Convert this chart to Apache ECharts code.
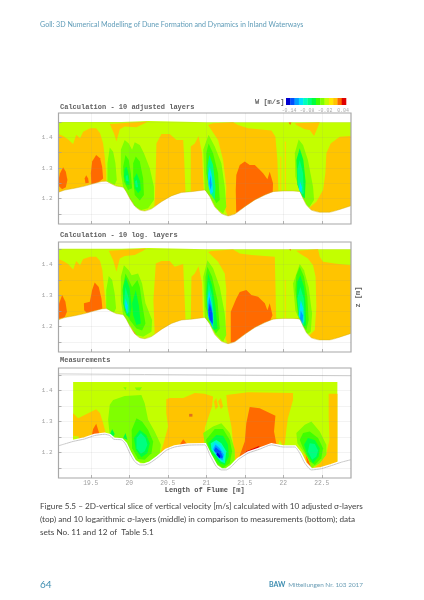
<!DOCTYPE html>
<html><head><meta charset="utf-8"><style>html,body{margin:0;padding:0;background:#fff}#c{width:424px;height:600px;filter:blur(0.35px)}</style>
<script src="https://cdn.jsdelivr.net/npm/echarts@6/dist/echarts.min.js"></script></head><body><div id="c"></div>
<script>
const YG='#c3ff00',OR='#ffc400',RD='#ff6a00',LG='#80ff00',G1='#40ff00',G2='#00ff40',G3='#00ff80',G4='#00ffc0',CY='#00e0ff',LB='#00a0ff',BL='#0050ff',DB='#0000d0',DR='#e00000',ST='#ffd500';
const colorbarLevels=[-0.15,-0.1357,-0.1214,-0.1071,-0.0929,-0.0786,-0.0643,-0.05,-0.0357,-0.0214,-0.0071,0.0071,0.0214,0.0357,0.05];
const colorbarColors=[DB,BL,LB,CY,G4,G3,G2,G1,LG,YG,'#ffe800',OR,RD,DR];
const colorbarTicks=[-0.14,-0.08,-0.02,0.04];
const flumeTicks=[19.5,20,20.5,21,21.5,22,22.5];
const zLabels=[1.2,1.3,1.4];
const zTicks=[1.15,1.2,1.25,1.3,1.35,1.4,1.45];

const bedModel=[[19.08,1.221],[19.162,1.228],[19.29,1.234],[19.42,1.241],[19.55,1.25],[19.64,1.256],[19.70,1.257],[19.77,1.248],[19.83,1.241],[19.92,1.237],[19.96,1.223],[20.006,1.201],[20.07,1.176],[20.136,1.163],[20.20,1.16],[20.288,1.167],[20.417,1.19],[20.547,1.209],[20.677,1.22],[20.807,1.223],[20.98,1.228],[21.045,1.207],[21.11,1.174],[21.196,1.152],[21.283,1.144],[21.37,1.15],[21.50,1.174],[21.63,1.196],[21.76,1.212],[21.87,1.223],[21.997,1.225],[22.127,1.225],[22.214,1.223],[22.257,1.201],[22.30,1.18],[22.365,1.163],[22.474,1.156],[22.60,1.156],[22.733,1.165],[22.88,1.177]];
const surfaceModel=[[19.08,1.45],[19.9,1.45],[20.25,1.453],[21.0,1.449],[22.88,1.449],[22.88,1.13],[19.08,1.13]];
const bedMeasured=[[19.08,1.222],[19.162,1.228],[19.27,1.236],[19.42,1.244],[19.55,1.255],[19.68,1.259],[19.746,1.255],[19.80,1.243],[19.90,1.241],[19.95,1.228],[20.006,1.198],[20.07,1.171],[20.136,1.16],[20.20,1.16],[20.266,1.166],[20.374,1.185],[20.48,1.207],[20.59,1.218],[20.763,1.224],[20.98,1.225],[21.045,1.193],[21.13,1.155],[21.196,1.144],[21.26,1.144],[21.326,1.155],[21.413,1.177],[21.543,1.198],[21.694,1.211],[21.846,1.225],[21.997,1.218],[22.15,1.218],[22.214,1.198],[22.28,1.166],[22.365,1.144],[22.495,1.148],[22.625,1.158],[22.755,1.169],[22.88,1.177]];
const surfaceMeasured=[[19.08,1.454],[20.2,1.452],[21.4,1.45],[22.88,1.448]];
const fieldMeasured=[[19.27,1.428],[22.703,1.428],[22.703,1.13],[19.27,1.13]];

// Panel 1: 10 adjusted layers
const a1=[[19.08,1.411],[19.14,1.404],[19.205,1.393],[19.27,1.378],[19.31,1.408],[19.36,1.397],[19.40,1.418],[19.49,1.429],[19.57,1.429],[19.62,1.413],[19.66,1.38],[19.68,1.337],[19.70,1.283],[19.70,1.2],[19.08,1.2]];
const a2=[[19.746,1.443],[20.244,1.451],[20.20,1.446],[20.093,1.433],[19.94,1.435],[19.876,1.426],[19.833,1.386],[19.80,1.413]];
const a3=[[20.352,1.38],[20.417,1.411],[20.525,1.411],[20.612,1.391],[20.70,1.391],[20.71,1.348],[20.73,1.22],[20.73,1.2],[20.31,1.15],[20.33,1.19],[20.344,1.294]];
const a4=[[20.798,1.37],[20.85,1.38],[20.90,1.404],[20.945,1.348],[20.958,1.272],[20.97,1.218],[20.798,1.2]];
const a5=[[21.088,1.446],[21.348,1.449],[21.413,1.44],[21.543,1.429],[21.846,1.422],[21.898,1.402],[21.924,1.326],[21.94,1.2],[21.3,1.13],[21.248,1.163],[21.26,1.239],[21.218,1.326],[21.153,1.391],[21.023,1.44]];
const a6=[[22.56,1.348],[22.616,1.38],[22.733,1.402],[22.88,1.404],[22.88,1.15],[22.474,1.14],[22.357,1.15],[22.33,1.169],[22.43,1.19],[22.517,1.228],[22.547,1.283]];
const a7=[[22.15,1.446],[22.474,1.449],[22.443,1.429],[22.40,1.404],[22.344,1.424],[22.28,1.426],[22.17,1.44]];
const a8=[[21.96,1.337],[21.975,1.337],[21.975,1.22],[21.96,1.22]];
const a9=[[22.02,1.386],[22.035,1.386],[22.035,1.22],[22.02,1.22]];
const a10=[[19.976,1.228],[20.036,1.212],[20.136,1.163],[20.006,1.185]];
const a11=[[19.14,1.302],[19.175,1.288],[19.196,1.261],[19.175,1.237],[19.127,1.231],[19.084,1.241],[19.08,1.261],[19.10,1.283]];
const a12=[[19.44,1.276],[19.465,1.266],[19.474,1.252],[19.43,1.25],[19.42,1.266]];
const a13=[[19.57,1.342],[19.62,1.332],[19.647,1.304],[19.66,1.266],[19.62,1.258],[19.508,1.24],[19.50,1.283],[19.517,1.321]];
const a14=[[21.39,1.277],[21.435,1.31],[21.50,1.321],[21.564,1.31],[21.63,1.31],[21.694,1.294],[21.738,1.283],[21.794,1.263],[21.824,1.288],[21.867,1.25],[21.86,1.2],[21.5,1.14],[21.39,1.14],[21.383,1.228]];
const a15=[[20.006,1.212],[20.05,1.201],[20.093,1.174],[20.05,1.174],[20.006,1.196]];
const a16=[[22.07,1.448],[22.105,1.448],[22.09,1.44]];
const a17=[[19.746,1.367],[19.79,1.353],[19.82,1.315],[19.837,1.261],[19.81,1.245],[19.76,1.252],[19.716,1.258],[19.716,1.315]];
const a18=[[19.94,1.391],[19.993,1.38],[20.036,1.359],[20.07,1.384],[20.136,1.375],[20.19,1.348],[20.266,1.299],[20.32,1.239],[20.32,1.196],[20.244,1.169],[20.157,1.163],[20.07,1.174],[19.984,1.212],[19.92,1.237],[19.89,1.283],[19.89,1.359]];
const a19=[[19.95,1.342],[19.993,1.326],[20.02,1.283],[20.036,1.234],[19.984,1.228],[19.93,1.256],[19.92,1.304]];
const a20=[[20.084,1.337],[20.136,1.321],[20.18,1.266],[20.19,1.212],[20.136,1.194],[20.07,1.212],[20.05,1.266],[20.05,1.315]];
const a21=[[19.967,1.304],[19.993,1.277],[20.006,1.245],[19.963,1.245],[19.93,1.272],[19.94,1.299]];
const a22=[[20.097,1.283],[20.14,1.256],[20.15,1.228],[20.114,1.218],[20.07,1.234],[20.06,1.266]];
const a23=[[19.976,1.277],[19.993,1.256],[19.954,1.259],[19.954,1.274]];
const a24=[[20.097,1.261],[20.114,1.237],[20.084,1.237],[20.075,1.256]];
const a25=[[21.03,1.408],[21.11,1.37],[21.196,1.315],[21.24,1.239],[21.26,1.174],[21.218,1.152],[21.13,1.169],[21.045,1.205],[20.98,1.228],[20.96,1.359]];
const a26=[[21.03,1.38],[21.088,1.348],[21.153,1.283],[21.175,1.196],[21.13,1.185],[21.045,1.228],[21.0,1.283],[21.0,1.348]];
const a27=[[21.04,1.342],[21.088,1.31],[21.12,1.239],[21.11,1.196],[21.067,1.212],[21.023,1.25],[21.015,1.304]];
const a28=[[21.045,1.304],[21.075,1.272],[21.088,1.223],[21.058,1.212],[21.03,1.239],[21.023,1.277]];
const a29=[[21.054,1.277],[21.07,1.245],[21.054,1.228],[21.04,1.25]];
const a30=[[22.20,1.393],[22.257,1.375],[22.32,1.326],[22.387,1.239],[22.40,1.196],[22.33,1.169],[22.257,1.201],[22.214,1.223],[22.157,1.272],[22.15,1.348]];
const a31=[[22.214,1.364],[22.261,1.326],[22.29,1.256],[22.28,1.201],[22.244,1.207],[22.183,1.245],[22.17,1.326]];
const a32=[[22.214,1.326],[22.257,1.283],[22.266,1.218],[22.235,1.212],[22.19,1.245],[22.183,1.294]];
const a33=[[22.218,1.256],[22.244,1.237],[22.235,1.218],[22.205,1.231]];

// Panel 2: 10 logarithmic layers
const b1=[[19.08,1.417],[19.14,1.411],[19.205,1.401],[19.27,1.383],[19.31,1.411],[19.36,1.397],[19.40,1.417],[19.49,1.424],[19.57,1.424],[19.62,1.411],[19.65,1.381],[19.67,1.327],[19.70,1.258],[19.70,1.2],[19.08,1.2]];
const b2=[[19.733,1.444],[20.22,1.451],[20.18,1.444],[20.07,1.43],[19.94,1.427],[19.876,1.419],[19.833,1.376],[19.79,1.413]];
const b3=[[20.344,1.403],[20.417,1.411],[20.525,1.411],[20.59,1.392],[20.70,1.401],[20.71,1.338],[20.73,1.222],[20.73,1.2],[20.31,1.15],[20.33,1.177],[20.313,1.284]];
const b4=[[20.807,1.36],[20.85,1.37],[20.90,1.394],[20.945,1.338],[20.958,1.225],[20.958,1.2],[20.798,1.2]];
const b5=[[21.067,1.443],[21.348,1.448],[21.435,1.435],[21.586,1.43],[21.89,1.424],[21.90,1.317],[21.91,1.2],[21.3,1.13],[21.248,1.161],[21.26,1.317],[21.24,1.37],[21.153,1.408],[21.023,1.44]];
const b6=[[22.17,1.444],[22.452,1.449],[22.474,1.424],[22.517,1.408],[22.668,1.403],[22.88,1.397],[22.88,1.15],[22.474,1.14],[22.357,1.15],[22.33,1.168],[22.41,1.188],[22.43,1.263],[22.42,1.36],[22.387,1.397],[22.32,1.419],[22.214,1.435]];
const b7=[[22.02,1.35],[22.032,1.35],[22.032,1.22],[22.02,1.22]];
const b8=[[20.02,1.196],[20.07,1.179],[20.105,1.168],[20.06,1.172]];
const b9=[[19.127,1.301],[19.17,1.279],[19.19,1.247],[19.16,1.229],[19.084,1.224],[19.08,1.268]];
const b10=[[19.55,1.341],[19.603,1.327],[19.638,1.29],[19.65,1.258],[19.55,1.24],[19.465,1.24],[19.413,1.252],[19.41,1.274],[19.487,1.279],[19.517,1.317]];
const b11=[[21.318,1.247],[21.39,1.29],[21.435,1.311],[21.52,1.317],[21.586,1.301],[21.673,1.295],[21.76,1.274],[21.794,1.252],[21.824,1.274],[21.86,1.236],[21.80,1.2],[21.5,1.14],[21.318,1.14]];
const b12=[[22.08,1.449],[22.1,1.449],[22.09,1.443]];
const b13=[[19.733,1.362],[19.777,1.349],[19.81,1.306],[19.828,1.258],[19.80,1.244],[19.746,1.25],[19.70,1.255],[19.70,1.317]];
const b14=[[19.93,1.397],[19.993,1.381],[20.03,1.365],[20.114,1.37],[20.166,1.338],[20.21,1.274],[20.296,1.22],[20.288,1.182],[20.18,1.166],[20.093,1.172],[19.993,1.209],[19.92,1.236],[19.89,1.284],[19.89,1.36]];
const b15=[[19.95,1.37],[19.993,1.349],[20.036,1.327],[20.105,1.349],[20.136,1.327],[20.166,1.274],[20.21,1.209],[20.166,1.186],[20.093,1.193],[20.006,1.22],[19.93,1.252],[19.91,1.317]];
const b16=[[19.954,1.358],[20.006,1.322],[20.03,1.263],[20.006,1.229],[19.963,1.236],[19.92,1.274],[19.92,1.327]];
const b17=[[20.084,1.317],[20.123,1.268],[20.15,1.209],[20.093,1.204],[20.05,1.236],[20.036,1.274]];
const b18=[[19.95,1.327],[19.993,1.29],[20.0,1.247],[19.967,1.239],[19.93,1.274]];
const b19=[[19.95,1.29],[19.98,1.268],[19.976,1.241],[19.945,1.263]];
const b20=[[21.015,1.413],[21.088,1.387],[21.175,1.327],[21.24,1.241],[21.26,1.172],[21.218,1.15],[21.13,1.172],[21.045,1.204],[20.98,1.225],[20.96,1.36]];
const b21=[[21.015,1.392],[21.075,1.36],[21.145,1.284],[21.175,1.193],[21.123,1.177],[21.045,1.215],[20.99,1.263],[20.99,1.36]];
const b22=[[21.023,1.37],[21.075,1.333],[21.12,1.263],[21.145,1.193],[21.10,1.188],[21.023,1.231],[21.0,1.306]];
const b23=[[21.03,1.344],[21.075,1.3],[21.10,1.236],[21.09,1.188],[21.03,1.225],[21.01,1.29]];
const b24=[[21.036,1.317],[21.075,1.268],[21.09,1.225],[21.084,1.196],[21.023,1.233],[21.015,1.284]];
const b25=[[21.04,1.295],[21.075,1.258],[21.088,1.22],[21.08,1.2],[21.023,1.236],[21.023,1.268]];
const b26=[[21.045,1.274],[21.08,1.241],[21.084,1.207],[21.04,1.222],[21.028,1.252]];
const b27=[[22.214,1.401],[22.27,1.381],[22.33,1.327],[22.374,1.241],[22.357,1.182],[22.30,1.172],[22.235,1.204],[22.157,1.252],[22.127,1.338]];
const b28=[[22.214,1.392],[22.27,1.36],[22.313,1.295],[22.33,1.22],[22.30,1.188],[22.257,1.198],[22.19,1.241],[22.157,1.317],[22.17,1.365]];
const b29=[[22.222,1.365],[22.27,1.327],[22.29,1.274],[22.296,1.204],[22.26,1.198],[22.20,1.236],[22.175,1.295],[22.183,1.344]];
const b30=[[22.222,1.327],[22.266,1.29],[22.28,1.22],[22.26,1.2],[22.205,1.236],[22.183,1.29]];
const b31=[[22.227,1.284],[22.26,1.258],[22.266,1.215],[22.24,1.204],[22.20,1.236]];
const b32=[[22.227,1.25],[22.257,1.236],[22.25,1.209],[22.218,1.225]];

// Panel 3: measurements
const c1=[[19.27,1.327],[19.335,1.311],[19.465,1.327],[19.57,1.34],[19.62,1.327],[19.66,1.295],[19.70,1.257],[19.70,1.23],[19.27,1.23]];
const c2=[[19.27,1.254],[19.344,1.252],[19.344,1.235],[19.27,1.235]];
const c3=[[20.48,1.372],[20.525,1.376],[20.70,1.376],[20.85,1.392],[20.976,1.39],[21.088,1.381],[21.075,1.349],[21.03,1.316],[20.98,1.279],[20.98,1.2],[20.35,1.15],[20.396,1.193],[20.44,1.225],[20.504,1.284],[20.48,1.327]];
const c4=[[21.26,1.386],[21.543,1.395],[22.127,1.392],[22.127,1.37],[22.06,1.311],[22.04,1.273],[22.02,1.228],[21.91,1.2],[21.5,1.13],[21.378,1.13],[21.378,1.16],[21.326,1.284],[21.274,1.349]];
const c5=[[22.59,1.39],[22.703,1.39],[22.703,1.14],[22.365,1.13],[22.365,1.144],[22.474,1.166],[22.56,1.198],[22.60,1.241],[22.59,1.316]];
const c6=[[21.10,1.365],[21.13,1.376],[21.153,1.349],[21.12,1.338]];
const c7=[[21.153,1.365],[21.19,1.376],[21.218,1.349],[21.19,1.34]];
const c8=[[21.954,1.241],[21.997,1.222],[21.932,1.222]];
const c9=[[19.976,1.222],[20.05,1.204],[20.114,1.166],[20.05,1.177]];
const c10=[[22.257,1.204],[22.365,1.166],[22.40,1.147],[22.30,1.16]];
const c11=[[19.57,1.293],[19.608,1.263],[19.62,1.25],[19.508,1.25],[19.53,1.276]];
const c12=[[20.70,1.243],[20.755,1.225],[20.755,1.21],[20.655,1.21],[20.655,1.225]];
const c13=[[20.46,1.209],[20.525,1.218],[20.547,1.214],[20.44,1.19]];
const c14=[[21.564,1.347],[21.694,1.343],[21.898,1.319],[21.88,1.268],[21.91,1.228],[21.80,1.2],[21.5,1.14],[21.39,1.16],[21.50,1.236],[21.52,1.295]];
const c15=[[21.52,1.204],[21.694,1.222],[21.673,1.213],[21.456,1.185]];
const c16=[[20.777,1.325],[20.82,1.325],[20.82,1.316],[20.777,1.316]];
const c17=[[19.993,1.217],[20.036,1.204],[20.07,1.185],[20.036,1.19]];
const c18=[[22.287,1.198],[22.344,1.166],[22.365,1.15],[22.313,1.166]];
const c19=[[19.79,1.37],[19.94,1.383],[20.157,1.386],[20.20,1.359],[20.244,1.306],[20.33,1.268],[20.41,1.225],[20.396,1.198],[20.288,1.171],[20.18,1.166],[20.07,1.177],[19.993,1.204],[19.92,1.239],[19.855,1.247],[19.746,1.255],[19.725,1.306],[19.746,1.354]];
const c20=[[19.92,1.411],[19.963,1.411],[19.954,1.402]];
const c21=[[20.07,1.41],[20.166,1.411],[20.136,1.4],[20.093,1.402]];
const c22=[[20.093,1.311],[20.166,1.3],[20.244,1.273],[20.31,1.236],[20.288,1.198],[20.20,1.177],[20.114,1.179],[20.036,1.214],[20.03,1.273]];
const c23=[[19.777,1.276],[19.81,1.26],[19.79,1.252],[19.746,1.257]];
const c24=[[19.95,1.263],[19.976,1.241],[19.92,1.247]];
const c25=[[20.136,1.273],[20.22,1.257],[20.266,1.23],[20.235,1.198],[20.157,1.185],[20.084,1.209],[20.06,1.247]];
const c26=[[20.15,1.263],[20.21,1.247],[20.235,1.225],[20.20,1.204],[20.15,1.196],[20.093,1.214],[20.093,1.247]];
const c27=[[21.088,1.284],[21.196,1.295],[21.305,1.263],[21.37,1.209],[21.37,1.177],[21.283,1.147],[21.196,1.147],[21.11,1.166],[21.045,1.193],[20.98,1.225],[20.96,1.263]];
const c28=[[21.11,1.276],[21.218,1.276],[21.305,1.241],[21.335,1.204],[21.305,1.166],[21.218,1.15],[21.13,1.166],[21.045,1.204],[20.993,1.241]];
const c29=[[21.13,1.257],[21.218,1.254],[21.283,1.225],[21.292,1.187],[21.24,1.16],[21.175,1.166],[21.067,1.198],[21.023,1.23]];
const c30=[[21.13,1.241],[21.196,1.23],[21.26,1.204],[21.24,1.166],[21.188,1.171],[21.067,1.209],[21.058,1.23]];
const c31=[[21.11,1.233],[21.188,1.222],[21.24,1.198],[21.218,1.171],[21.16,1.182],[21.075,1.214]];
const c32=[[21.12,1.225],[21.175,1.214],[21.227,1.193],[21.21,1.175],[21.153,1.185],[21.09,1.211]];
const c33=[[21.123,1.217],[21.183,1.204],[21.218,1.185],[21.188,1.182],[21.10,1.207]];
const c34=[[21.145,1.2],[21.183,1.19],[21.175,1.182],[21.13,1.193]];
const c35=[[22.28,1.29],[22.365,1.3],[22.474,1.268],[22.56,1.225],[22.56,1.193],[22.474,1.166],[22.365,1.15],[22.32,1.182],[22.257,1.204],[22.183,1.23],[22.17,1.263]];
const c36=[[22.257,1.263],[22.344,1.268],[22.452,1.247],[22.517,1.214],[22.495,1.182],[22.41,1.16],[22.344,1.171],[22.257,1.214],[22.214,1.241]];
const c37=[[22.32,1.247],[22.41,1.241],[22.474,1.214],[22.46,1.187],[22.387,1.166],[22.313,1.193],[22.27,1.225]];
const c38=[[22.344,1.23],[22.41,1.228],[22.452,1.207],[22.43,1.187],[22.374,1.177],[22.32,1.204]];

const panel1Regions=[[YG,surfaceModel],[OR,a1],[OR,a2],[OR,a3],[OR,a4],[OR,a5],[OR,a6],[OR,a7],[ST,a8],[ST,a9],[OR,a10],[RD,a11],[RD,a12],[RD,a13],[RD,a14],[RD,a15],[RD,a16],[LG,a17],[LG,a18],[G1,a19],[G1,a20],[G2,a21],[G2,a22],[G3,a23],[G3,a24],[LG,a25],[G1,a26],[G3,a27],[CY,a28],[LB,a29],[LG,a30],[G2,a31],[G3,a32],[CY,a33]];
const panel2Regions=[[YG,surfaceModel],[OR,b1],[OR,b2],[OR,b3],[OR,b4],[OR,b5],[OR,b6],[ST,b7],[RD,b8],[RD,b9],[RD,b10],[RD,b11],[RD,b12],[LG,b13],[LG,b14],[G1,b15],[G2,b16],[G2,b17],[G3,b18],[CY,b19],[LG,b20],[G1,b21],[G2,b22],[G3,b23],[CY,b24],[LB,b25],[BL,b26],[LG,b27],[G1,b28],[G2,b29],[G3,b30],[CY,b31],[LB,b32]];
const panel3Regions=[[YG,fieldMeasured],[OR,c1],[YG,c2],[OR,c3],[OR,c4],[OR,c5],[OR,c6],[OR,c7],[YG,c8],[OR,c9],[OR,c10],[RD,c11],[RD,c12],[RD,c13],[RD,c14],[DR,c15],['#e07020',c16],[RD,c17],[RD,c18],[LG,c19],[LG,c20],[LG,c21],[G1,c22],[G2,c23],[G2,c24],[G2,c25],[G3,c26],[LG,c27],[G1,c28],[G2,c29],[G4,c30],[CY,c31],[LB,c32],[BL,c33],[DB,c34],[LG,c35],[G1,c36],[G2,c37],[G3,c38]];

const mono='"Liberation Mono",monospace', sans='"Lato","Open Sans",sans-serif';
const X0=19.08,X1=22.88,Z0=[1.1176,1.117,1.118],Z1=[1.479,1.472,1.473];
const boxes=[[113,224],[242,352],[368,478]];
const grids=[],xAxes=[],yAxes=[],series=[];
function polySeries(g,regions,zv){
  series.push({type:'custom',coordinateSystem:'cartesian2d',xAxisIndex:g,yAxisIndex:g,z:zv,clip:true,silent:true,
    data:regions.map((r,i)=>[X0,Z0[g],i]),
    renderItem(p,api){const r=regions[p.dataIndex];
      return {type:'polygon',shape:{points:r[1].map(q=>api.coord(q))},style:{fill:r[0],stroke:r[2]||null,lineWidth:r[3]||0}};}});
}
[panel1Regions,panel2Regions,panel3Regions].forEach((regions,g)=>{
  grids.push({left:58.5,width:292.5,top:boxes[g][0],height:boxes[g][1]-boxes[g][0],show:true,borderColor:'#a8a8a8',borderWidth:1.2,z:5});
  const last=g===2;
  xAxes.push({type:'value',gridIndex:g,min:X0,max:X1,z:5,
    name:last?'Length of Flume [m]':'',nameLocation:'middle',nameGap:9,nameTextStyle:{fontFamily:mono,fontWeight:'bold',fontSize:7,color:'#505050'},
    axisLine:{show:false},
    axisTick:{show:true,inside:true,length:3,customValues:flumeTicks,lineStyle:{color:'#a0a0a0',width:0.8}},
    splitLine:{show:true,customValues:flumeTicks,lineStyle:{color:'rgba(150,150,150,0.14)',width:0.8}},
    axisLabel:{show:last,customValues:flumeTicks,margin:2,fontFamily:mono,fontSize:6.3,color:'#a0a0a0',formatter:v=>String(v)}});
  yAxes.push({type:'value',gridIndex:g,min:Z0[g],max:Z1[g],z:5,
    axisLine:{show:false},
    axisTick:{show:true,inside:true,length:3,customValues:zTicks,lineStyle:{color:'#a0a0a0',width:0.8}},
    splitLine:{show:true,customValues:zTicks,lineStyle:{color:'rgba(150,150,150,0.14)',width:0.8}},
    axisLabel:{customValues:zLabels,margin:6,fontFamily:mono,fontSize:6,color:'#a0a0a0',formatter:v=>v.toFixed(1)}});
  polySeries(g,regions,1);
  const bed=g===2?bedMeasured:bedModel;
  polySeries(g,[['#ffffff',bed.concat([[X1,Z0[g]-0.02],[X0,Z0[g]-0.02]]),'#ffffff',g===2?3.6:0]],2);
  series.push({type:'line',xAxisIndex:g,yAxisIndex:g,data:bed,symbol:'none',z:3,silent:true,smooth:0.2,
    lineStyle:{color:g===2?'#c8c8c8':'rgba(205,175,20,0.55)',width:g===2?1:0.8}});
  if(last) series.push({type:'line',xAxisIndex:g,yAxisIndex:g,data:surfaceMeasured,symbol:'none',z:3,silent:true,lineStyle:{color:'#d0d0d0',width:1}});
});
// colour bar
grids.push({left:286,width:60,top:98,height:7,show:false});
xAxes.push({type:'value',gridIndex:3,min:-0.15,max:0.05,axisLine:{show:false},axisTick:{show:false},splitLine:{show:false},
  axisLabel:{customValues:colorbarTicks,margin:3,fontFamily:mono,fontSize:4.9,color:'#aaaaaa',formatter:v=>v.toFixed(2)}});
yAxes.push({type:'value',gridIndex:3,min:0,max:1,show:false});
series.push({type:'custom',xAxisIndex:3,yAxisIndex:3,silent:true,data:colorbarColors.map((c,i)=>[colorbarLevels[i],colorbarLevels[i+1]]),
  encode:{x:[0,1]},
  renderItem(p,api){const a=api.coord([api.value(0),1]),b=api.coord([api.value(1),0]);
    return {type:'rect',shape:{x:a[0],y:a[1],width:b[0]-a[0]+0.3,height:b[1]-a[1]},style:{fill:colorbarColors[p.dataIndex]}};}});
const T=(x,y,t,o={})=>({type:'text',x,y,silent:true,style:Object.assign({text:t,fontFamily:sans,fontSize:9.6,fill:'#444',verticalAlign:'middle'},o)});
const M={fontFamily:mono,fontWeight:'bold',fontSize:7,fill:'#606060'};
const chart=echarts.init(document.getElementById('c'),null,{renderer:'canvas'});
chart.setOption({animation:false,backgroundColor:'#fff',grid:grids,xAxis:xAxes,yAxis:yAxes,series,
 graphic:[
  T(40,25,'Goll: 3D Numerical Modelling of Dune Formation and Dynamics in Inland Waterways',{fontSize:7.1,fill:'#5f9cb8'}),
  T(60,107,'Calculation - 10 adjusted layers',M),
  T(60,235,'Calculation - 10 log. layers',M),
  T(60,360,'Measurements',M),
  T(255,102,'W [m/s]',M),
  Object.assign(T(358,297,'z [m]',Object.assign({},M,{align:'center'})),{rotation:Math.PI/2}),
  T(40,506.5,'Figure 5.5 – 2D-vertical slice of vertical velocity [m/s] calculated with 10 adjusted σ-layers',{fontSize:8.2}),
  T(40,519.5,'(top) and 10 logarithmic σ-layers (middle) in comparison to measurements (bottom); data',{fontSize:8.2}),
  T(40,532.5,'sets No. 11 and 12 of  Table 5.1',{fontSize:8.2}),
  T(40,585,'64',{fontSize:10,fill:'#3d8db0'}),
  T(269,585,'BAW',{fontSize:7,fontWeight:'bold',fill:'#3d8db0'}),
  T(363,585,'Mitteilungen Nr. 103 2017',{fontSize:6.4,fill:'#6a9db5',align:'right'})
 ]});
</script></body></html>
